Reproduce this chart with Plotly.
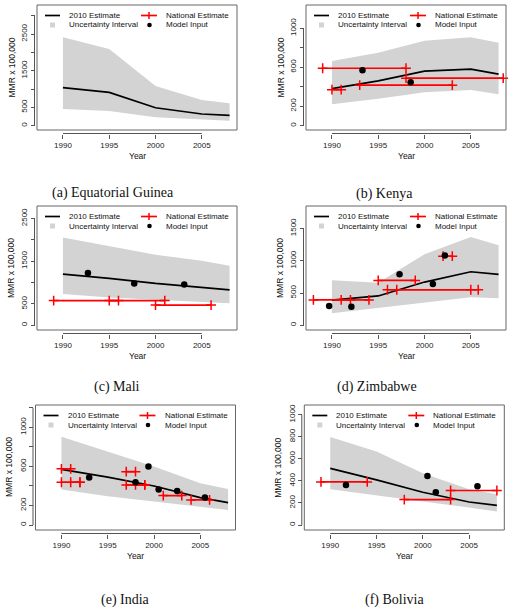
import plotly.graph_objects as go

W, H = 512, 612
FONT = "Liberation Sans, Arial, sans-serif"
SERIF = "Liberation Serif, Times New Roman, serif"

years = [1990, 1995, 2000, 2005, 2008]
x_ticks = [1990, 1995, 2000, 2005]
x_labels = ["1990", "1995", "2000", "2005"]
x_range = [1987.2, 2008.8]

# (a) Equatorial Guinea
eg_est = [1040, 910, 490, 320, 280]
eg_low = [455, 400, 230, 175, 136]
eg_high = [2410, 2090, 1080, 700, 610]
eg_nat_start, eg_nat_end, eg_nat_val = [], [], []
eg_inp_year, eg_inp_val = [], []
eg_yticks = [0, 500, 1000, 1500, 2000, 2500, 3000]
eg_ylabels = ["0", "500", "", "1500", "", "2500", ""]
eg_yrange = [-117, 3292]

# (b) Kenya
ke_est = [380, 460, 560, 580, 530]
ke_low = [220, 277, 343, 367, 322]
ke_high = [664, 750, 873, 908, 852]
ke_nat_start = [1989, 1990, 1993, 1998]
ke_nat_end = [1998, 1991, 2003, 2008.5]
ke_nat_val = [590, 370, 416, 488]
ke_inp_year = [1993.3, 1998.5]
ke_inp_val = [569, 446]
ke_yticks = [0, 200, 400, 600, 800, 1000]
ke_ylabels = ["0", "200", "", "600", "", "1000"]
ke_yrange = [-44, 1239]

# (c) Mali
ml_est = [1200, 1100, 980, 880, 830]
ml_low = [731, 654, 598, 551, 514]
ml_high = [2056, 1860, 1650, 1509, 1393]
ml_nat_start = [1989, 1995, 2000]
ml_nat_end = [1996, 2001, 2006]
ml_nat_val = [578, 578, 474]
ml_inp_year = [1992.7, 1997.7, 2003.1]
ml_inp_val = [1222, 981, 958]
ml_yticks = [0, 500, 1000, 1500, 2000, 2500]
ml_ylabels = ["0", "500", "", "1500", "", "2500"]
ml_yrange = [-110, 2794]

# (d) Zimbabwe
zw_est = [390, 455, 670, 830, 790]
zw_low = [185, 267, 345, 433, 418]
zw_high = [700, 660, 1103, 1370, 1242]
zw_nat_start = [1988, 1991, 1995, 1996, 1997, 2002]
zw_nat_end = [1992, 1994, 1999, 2005.8, 2005, 2003]
zw_nat_val = [393, 393, 696, 551, 551, 1072]
zw_inp_year = [1989.7, 1992.1, 1997.3, 2000.9, 2002.2]
zw_inp_val = [298, 288, 793, 639, 1082]
zw_yticks = [0, 500, 1000, 1500]
zw_ylabels = ["0", "500", "1000", "1500"]
zw_yrange = [-73, 1849]

# (e) India
in_est = [570, 490, 400, 280, 230]
in_low = [365, 295, 240, 189, 154]
in_high = [905, 755, 600, 428, 370]
in_nat_start = [1990, 1990, 1991, 1997, 1997, 1998, 2001, 2004]
in_nat_end = [1991, 1992, 1992, 1998, 1999, 1999, 2003, 2006]
in_nat_val = [575, 438, 438, 546, 411, 411, 302, 257]
in_inp_year = [1993.0, 1998.0, 1999.4, 2000.5, 2002.5, 2005.5]
in_inp_val = [487, 438, 600, 363, 349, 281]
in_yticks = [0, 200, 400, 600, 800, 1000, 1200]
in_ylabels = ["0", "200", "", "600", "", "1000", ""]
in_yrange = [-51, 1229]

# (f) Bolivia
bo_est = [513, 409, 297, 209, 179]
bo_low = [325, 267, 213, 158, 122]
bo_high = [797, 667, 470, 325, 279]
bo_nat_start = [1989, 1998, 2003]
bo_nat_end = [1994, 2003, 2008]
bo_nat_val = [391, 231, 313]
bo_inp_year = [1991.7, 2000.5, 2001.4, 2005.9]
bo_inp_val = [364, 445, 297, 352]
bo_yticks = [0, 200, 400, 600, 800, 1000]
bo_ylabels = ["0", "200", "400", "600", "800", "1000"]
bo_yrange = [-45, 1088]

captions = ["(a) Equatorial Guinea", "(b) Kenya", "(c) Mali",
            "(d) Zimbabwe", "(e) India", "(f) Bolivia"]
legend_labels = ["2010 Estimate", "Uncertainty Interval",
                 "National Estimate", "Model Input"]
y_title = "MMR x 100,000"
x_title = "Year"

panels = [
    (eg_est, eg_low, eg_high, eg_nat_start, eg_nat_end, eg_nat_val, eg_inp_year, eg_inp_val, eg_yticks, eg_ylabels, eg_yrange),
    (ke_est, ke_low, ke_high, ke_nat_start, ke_nat_end, ke_nat_val, ke_inp_year, ke_inp_val, ke_yticks, ke_ylabels, ke_yrange),
    (ml_est, ml_low, ml_high, ml_nat_start, ml_nat_end, ml_nat_val, ml_inp_year, ml_inp_val, ml_yticks, ml_ylabels, ml_yrange),
    (zw_est, zw_low, zw_high, zw_nat_start, zw_nat_end, zw_nat_val, zw_inp_year, zw_inp_val, zw_yticks, zw_ylabels, zw_yrange),
    (in_est, in_low, in_high, in_nat_start, in_nat_end, in_nat_val, in_inp_year, in_inp_val, in_yticks, in_ylabels, in_yrange),
    (bo_est, bo_low, bo_high, bo_nat_start, bo_nat_end, bo_nat_val, bo_inp_year, bo_inp_val, bo_yticks, bo_ylabels, bo_yrange),
]

# panel boxes in pixels: left, top, right, bottom
boxes = [(37, 5, 237, 130), (306, 5, 506, 130),
         (37, 206, 237, 330), (306, 206, 506, 330),
         (35.5, 405, 235.5, 530), (304.3, 405, 504.3, 530)]
caption_pos = [(113, 193), (384, 194), (117, 387), (377, 387), (125, 600), (394, 600)]

BAND = "#d3d3d3"
AX = "#555555"


def px(x):
    return x / W


def py(y):
    return 1 - y / H


fig = go.Figure()
layout = dict(width=W, height=H, margin=dict(l=0, r=0, t=0, b=0),
              paper_bgcolor="white", plot_bgcolor="rgba(0,0,0,0)",
              showlegend=False, font=dict(family=FONT, size=8, color="#222"))
shapes = []
annotations = []

for i, (p, box, cap, cpos) in enumerate(zip(panels, boxes, captions, caption_pos)):
    est, low, high, ns, ne, nv, iy, iv, yt, yl, yr = p
    n = i + 1
    xa = "x" if n == 1 else f"x{n}"
    ya = "y" if n == 1 else f"y{n}"
    L, T, R, B = box

    # uncertainty band
    fig.add_trace(go.Scatter(x=years, y=low, mode="lines", line=dict(width=0, color=BAND),
                             hoverinfo="skip", xaxis=xa, yaxis=ya))
    fig.add_trace(go.Scatter(x=years, y=high, mode="lines", line=dict(width=0, color=BAND),
                             fill="tonexty", fillcolor=BAND, xaxis=xa, yaxis=ya))
    # 2010 estimate
    fig.add_trace(go.Scatter(x=years, y=est, mode="lines", line=dict(width=1.7, color="black"),
                             xaxis=xa, yaxis=ya))
    # national estimates (segments)
    if ns:
        sx, sy = [], []
        for s, e, v in zip(ns, ne, nv):
            sx += [s, e, None]
            sy += [v, v, None]
        fig.add_trace(go.Scatter(x=sx, y=sy, mode="lines+markers",
                                 line=dict(width=1.7, color="red"),
                                 marker=dict(symbol="cross-thin", size=7,
                                             line=dict(width=1.5, color="red"), color="red"),
                                 cliponaxis=False, xaxis=xa, yaxis=ya))
    # model inputs
    if iy:
        fig.add_trace(go.Scatter(x=iy, y=iv, mode="markers",
                                 marker=dict(symbol="circle", size=6.5, color="black"),
                                 cliponaxis=False, xaxis=xa, yaxis=ya))

    xkey = "xaxis" if n == 1 else f"xaxis{n}"
    ykey = "yaxis" if n == 1 else f"yaxis{n}"
    layout[xkey] = dict(domain=[px(L), px(R)], range=x_range, anchor="free",
                        position=py(B + 3.5), tickvals=x_ticks, ticktext=x_labels,
                        ticks="outside", ticklen=4, tickwidth=1, tickcolor=AX,
                        showgrid=False, zeroline=False, showline=False,
                        tickfont=dict(size=8, family=FONT, color="#222"))
    layout[ykey] = dict(domain=[py(B), py(T)], range=yr, anchor="free",
                        position=px(L - 2.5), tickvals=yt, ticktext=yl,
                        ticks="outside", ticklen=4, tickwidth=1, tickcolor=AX,
                        tickangle=-90, showgrid=False, zeroline=False, showline=False,
                        tickfont=dict(size=8, family=FONT, color="#222"))

    # plot box
    shapes.append(dict(type="rect", xref=f"{xa} domain", yref=f"{ya} domain",
                       x0=0, x1=1, y0=0, y1=1, line=dict(color="#666", width=1)))
    # R-style axis lines (first to last tick)
    shapes.append(dict(type="line", xref=xa, yref="paper", x0=x_ticks[0], x1=x_ticks[-1],
                       y0=py(B + 3.5), y1=py(B + 3.5), line=dict(color=AX, width=1)))
    shapes.append(dict(type="line", xref="paper", yref=ya, x0=px(L - 2.5), x1=px(L - 2.5),
                       y0=yt[0], y1=yt[-1], line=dict(color=AX, width=1)))

    # legend keys
    r1, r2 = T + 10.5, T + 20
    shapes.append(dict(type="line", xref="paper", yref="paper", x0=px(L + 8), x1=px(L + 23),
                       y0=py(r1), y1=py(r1), line=dict(color="black", width=1.7)))
    shapes.append(dict(type="rect", xref="paper", yref="paper", x0=px(L + 13), x1=px(L + 18),
                       y0=py(r2 + 2.5), y1=py(r2 - 2.5), fillcolor=BAND, line=dict(width=0)))
    shapes.append(dict(type="line", xref="paper", yref="paper", x0=px(L + 104), x1=px(L + 120),
                       y0=py(r1), y1=py(r1), line=dict(color="red", width=1.7)))
    shapes.append(dict(type="line", xref="paper", yref="paper", x0=px(L + 112), x1=px(L + 112),
                       y0=py(r1 - 3.5), y1=py(r1 + 3.5), line=dict(color="red", width=1.5)))
    shapes.append(dict(type="circle", xref="paper", yref="paper", x0=px(L + 110.2), x1=px(L + 114.8),
                       y0=py(r2 + 2.3), y1=py(r2 - 2.3), fillcolor="black", line=dict(width=0)))
    for txt, lx, ly in [(legend_labels[0], L + 30, r1), (legend_labels[1], L + 30, r2),
                        (legend_labels[2], L + 127, r1), (legend_labels[3], L + 127, r2)]:
        annotations.append(dict(text=txt, xref="paper", yref="paper", x=px(lx), y=py(ly),
                                xanchor="left", yanchor="middle", showarrow=False,
                                font=dict(size=8, family=FONT, color="#111")))

    # axis titles
    annotations.append(dict(text=x_title, xref="paper", yref="paper", x=px((L + R) / 2),
                            y=py(B + 26), xanchor="center", yanchor="middle", showarrow=False,
                            font=dict(size=8.5, family=FONT, color="#111")))
    annotations.append(dict(text=y_title, xref="paper", yref="paper", x=px(L - 26),
                            y=py((T + B) / 2), xanchor="center", yanchor="middle", showarrow=False,
                            textangle=-90, font=dict(size=8.5, family=FONT, color="#111")))
    # caption
    annotations.append(dict(text=cap, xref="paper", yref="paper", x=px(cpos[0]), y=py(cpos[1]),
                            xanchor="center", yanchor="middle", showarrow=False,
                            font=dict(size=14, family=SERIF, color="#111")))

layout["shapes"] = shapes
layout["annotations"] = annotations
fig.update_layout(**layout)
fig.write_html("out.html", config={"displayModeBar": False},
               post_script="document.body.style.margin='0';document.body.style.overflow='hidden';")
